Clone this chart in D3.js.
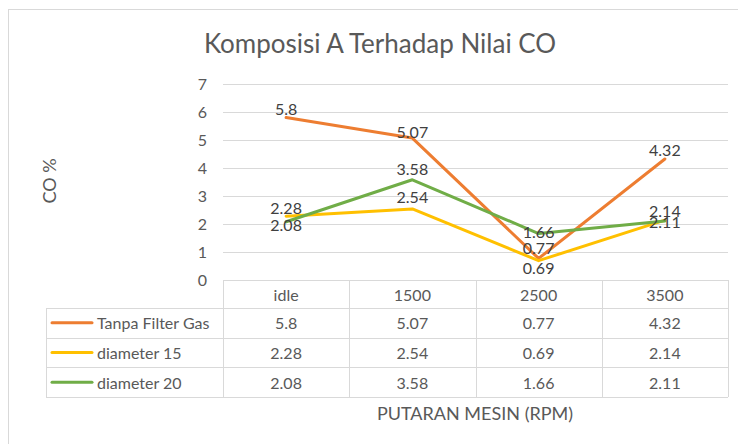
<!DOCTYPE html>
<html>
<head>
<meta charset="utf-8">
<script src="https://d3js.org/d3.v7.min.js"></script>
<style>
  body{ margin:0; background:#fff; }
  text{ font-family: Lato, "Open Sans", sans-serif; fill:#595959; }
  .grid line{ stroke:#d9d9d9; stroke-width:1; }
  .tbl line{ stroke:#d9d9d9; stroke-width:1; }
  .lbl{ font-size:16px; fill:#404040; }
</style>
</head>
<body>
<div id="chart"></div>
<script>

var categories = ["idle", "1500", "2500", "3500"];
var seriesNames = ["Tanpa Filter Gas", "diameter 15", "diameter 20"];
var tanpaFilter = [5.8, 5.07, 0.77, 4.32];
var diameter15 = [2.28, 2.54, 0.69, 2.14];
var diameter20 = [2.08, 3.58, 1.66, 2.11];
var yTicks = [0, 1, 2, 3, 4, 5, 6, 7];

var colors = ["#ed7d31", "#ffc000", "#70ad47"];
// label vertical offsets per series (manual placement as in the picture)
var labelDy = [[-9, -7, -11, -10], [-9, -12, 7, -10], [3, -11, -2, 1]];

var series = seriesNames.map(function(n, i){
  return {name: n, values: [tanpaFilter, diameter15, diameter20][i], color: colors[i], dy: labelDy[i]};
});

var width = 738, height = 444;
var svg = d3.select("#chart").append("svg")
    .attr("width", width)
    .attr("height", height);

svg.append("rect")
    .attr("x", 8.5).attr("y", 9.5)
    .attr("width", 800).attr("height", 500)
    .attr("fill", "#fff")
    .attr("stroke", "#d9d9d9");

var x = d3.scaleBand().domain(categories).range([223, 728]);
var y = d3.scaleLinear().domain([0, 7]).range([280, 84]);
var rows = d3.scaleBand().domain(seriesNames).range([308, 397]);

// title
svg.append("text")
    .attr("x", 380).attr("y", 53)
    .attr("text-anchor", "middle")
    .style("font-size", "26px")
    .text("Komposisi A Terhadap Nilai CO");

// gridlines
svg.append("g").attr("class", "grid")
  .selectAll("line")
  .data(yTicks.filter(function(d){ return d > 0; }))
  .enter().append("line")
    .attr("x1", 223).attr("x2", 728)
    .attr("y1", function(d){ return Math.round(y(d)) + 0.5; })
    .attr("y2", function(d){ return Math.round(y(d)) + 0.5; });

// y axis
var yAxis = svg.append("g")
    .attr("transform", "translate(223,0)")
    .call(d3.axisLeft(y).tickValues(yTicks).tickSize(0).tickPadding(16).tickFormat(d3.format("d")));
yAxis.select(".domain").remove();
yAxis.selectAll("text").style("font-size", "16px").style("font-family", "Lato, sans-serif").attr("fill", "#595959");

svg.append("text")
    .attr("transform", "translate(56,181) rotate(-90)")
    .attr("text-anchor", "middle")
    .style("font-size", "18px")
    .text("CO %");

// lines
var line = d3.line()
    .x(function(d, i){ return x(categories[i]) + x.bandwidth() / 2; })
    .y(function(d){ return y(d); });

svg.selectAll(".series")
    .data(series)
  .enter().append("path")
    .attr("class", "series")
    .attr("d", function(d){ return line(d.values); })
    .attr("fill", "none")
    .attr("stroke", function(d){ return d.color; })
    .attr("stroke-width", 3)
    .attr("stroke-linejoin", "round")
    .attr("stroke-linecap", "round");

// data labels
series.forEach(function(s){
  svg.append("g").selectAll("text")
    .data(s.values)
    .enter().append("text")
      .attr("class", "lbl")
      .attr("text-anchor", "middle")
      .attr("dominant-baseline", "central")
      .attr("x", function(d, i){ return x(categories[i]) + x.bandwidth() / 2; })
      .attr("y", function(d, i){ return y(d) + s.dy[i]; })
      .text(function(d){ return d; });
});

// data table
var tbl = svg.append("g").attr("class", "tbl");
var hLines = [{y: 280, x1: 223}, {y: 308, x1: 46}].concat(seriesNames.map(function(n){
  return {y: rows(n) + rows.bandwidth(), x1: 46};
}));
tbl.selectAll(".h").data(hLines).enter().append("line")
    .attr("x1", function(d){ return d.x1; }).attr("x2", 728)
    .attr("y1", function(d){ return Math.round(d.y) + 0.5; })
    .attr("y2", function(d){ return Math.round(d.y) + 0.5; });
var vx = categories.map(function(c){ return x(c); }).concat([x.range()[1]]);
tbl.selectAll(".v").data(vx).enter().append("line")
    .attr("x1", function(d){ return Math.round(d) + 0.5; })
    .attr("x2", function(d){ return Math.round(d) + 0.5; })
    .attr("y1", 280).attr("y2", 397);
tbl.append("line")
    .attr("x1", 46.5).attr("x2", 46.5).attr("y1", 308).attr("y2", 397);

// header row
svg.append("g").selectAll("text")
    .data(categories)
    .enter().append("text")
      .attr("text-anchor", "middle")
      .attr("dominant-baseline", "central")
      .attr("x", function(d){ return x(d) + x.bandwidth() / 2; })
      .attr("y", 294)
      .style("font-size", "16px")
      .text(function(d){ return d; });

// rows
var rowG = svg.selectAll(".row")
    .data(series)
  .enter().append("g")
    .attr("class", "row")
    .attr("transform", function(d){ return "translate(0," + (rows(d.name) + rows.bandwidth() / 2) + ")"; });

rowG.append("line")
    .attr("x1", 52).attr("x2", 92)
    .attr("stroke", function(d){ return d.color; })
    .attr("stroke-width", 3)
    .attr("stroke-linecap", "round");

rowG.append("text")
    .attr("x", 97)
    .attr("dominant-baseline", "central")
    .style("font-size", "16px")
    .text(function(d){ return d.name; });

rowG.selectAll(".val")
    .data(function(d){ return d.values; })
    .enter().append("text")
      .attr("class", "val")
      .attr("text-anchor", "middle")
      .attr("dominant-baseline", "central")
      .attr("x", function(d, i){ return x(categories[i]) + x.bandwidth() / 2; })
      .style("font-size", "16px")
      .text(function(d){ return d; });

// x title
svg.append("text")
    .attr("x", 475).attr("y", 413)
    .attr("text-anchor", "middle")
    .attr("dominant-baseline", "central")
    .style("font-size", "18px")
    .text("PUTARAN MESIN (RPM)");

</script>
</body>
</html>
